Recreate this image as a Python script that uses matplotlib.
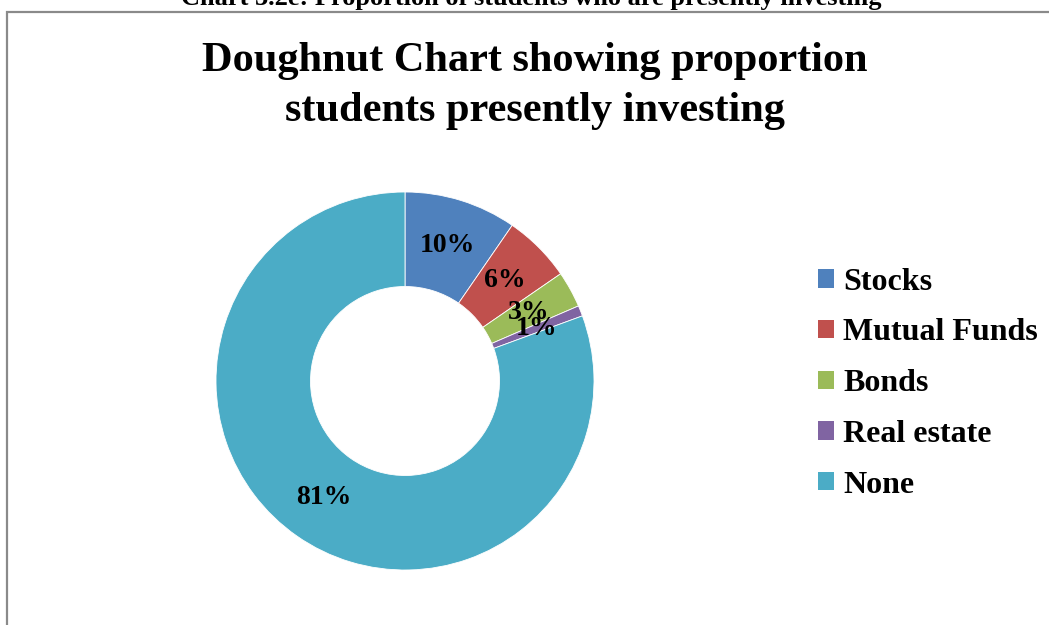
import matplotlib
matplotlib.use('Agg')
import matplotlib.pyplot as plt
from matplotlib.patches import Rectangle

# Share of students presently investing (read from the doughnut)
categories = ['Stocks', 'Mutual Funds', 'Bonds', 'Real estate', 'None']
shares = [9.6, 5.8, 3.1, 0.9, 80.6]
colors = ['#4F81BD', '#C0504D', '#9BBB59', '#8064A2', '#4BACC6']

plt.rcParams['font.family'] = ['Liberation Serif', 'DejaVu Serif']
plt.rcParams['font.weight'] = 'bold'

W, H = 1049, 625
fig = plt.figure(figsize=(W / 100, H / 100), dpi=100)

# grey frame of the chart area (cut off at right and bottom)
fig.patches.append(Rectangle((7 / W, -0.1), 1.2, 1 - 12 / H + 0.1,
                             transform=fig.transFigure, fill=False,
                             edgecolor='#8a8a8a', linewidth=1.6))

# document caption, partly cut off at the top
fig.text(531 / W, 1 - 5 / H, 'Chart 3.2e: Proportion of students who are presently investing',
         ha='center', va='baseline', fontsize=19, fontweight='bold')

fig.text(535 / W, 1 - 86 / H, 'Doughnut Chart showing proportion\nstudents presently investing',
         ha='center', va='center', fontsize=30.5, fontweight='bold', linespacing=1.38)

cx, cy, r = 405, 381, 189
ax = fig.add_axes([(cx - r) / W, (H - cy - r) / H, 2 * r / W, 2 * r / H])
wedges, texts, autotexts = ax.pie(shares, colors=colors, startangle=90, counterclock=False,
                                  autopct='%1.0f%%', pctdistance=0.75,
                                  wedgeprops=dict(width=0.5, edgecolor='white', linewidth=0.6),
                                  textprops=dict(fontsize=20, fontweight='bold', color='black'))
ax.set_xlim(-1, 1)
ax.set_ylim(-1, 1)
ax.set_aspect('equal')
ax.axis('off')

leg = fig.legend(wedges, categories, loc='upper left', bbox_to_anchor=(789 / W, 1 - 239 / H),
                 frameon=False, prop=dict(size=23, weight='bold'),
                 handlelength=0.5, handleheight=0.5, handletextpad=0.3, labelspacing=0.68)
for h in leg.legend_handles:
    h.set_edgecolor('none')

plt.savefig('out.png', dpi=100)
plt.close()
